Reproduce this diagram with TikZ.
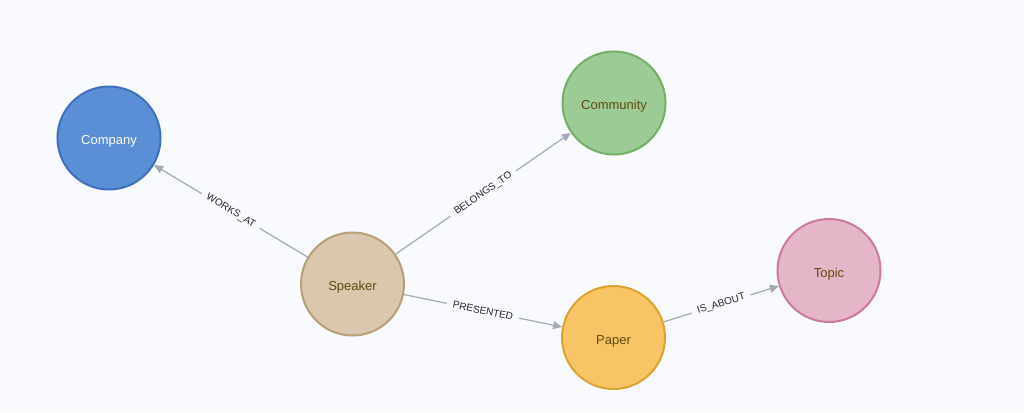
\documentclass[tikz,border=0pt]{standalone}
\usepackage{fontspec}
\setmainfont{Liberation Sans}
\usetikzlibrary{arrows.meta}
\definecolor{bg}{HTML}{F8FAFD}
\definecolor{edgec}{HTML}{A5ABB6}
\definecolor{txt}{HTML}{604A0E}
\definecolor{compF}{HTML}{5A8FD8}\definecolor{compD}{HTML}{3F70BC}
\definecolor{commF}{HTML}{9DCB96}\definecolor{commD}{HTML}{72B064}
\definecolor{spkF}{HTML}{D9C8AE}\definecolor{spkD}{HTML}{BA9E74}
\definecolor{papF}{HTML}{F8C566}\definecolor{papD}{HTML}{D9A431}
\definecolor{topF}{HTML}{E4B6C8}\definecolor{topD}{HTML}{CC7A9E}
\tikzset{
  ent/.style={circle, minimum size=103pt, inner sep=0pt, line width=2pt,
    text height=13.5pt, text depth=0pt,
    font=\fontsize{13}{15}\selectfont, text=txt},
  rel/.style={draw=edgec, line width=1.2pt, -{Triangle[length=9pt,width=8pt]}},
  rlab/.style={fill=bg, sloped, inner xsep=6pt, inner ysep=2pt,
    font=\fontsize{10}{12}\selectfont, text=black!85}
}
\begin{document}
\begin{tikzpicture}[x=1pt,y=-1pt]
\fill[bg] (0,0) rectangle (1024,412);
\useasboundingbox (0,0) rectangle (1024,412);
\node[ent, fill=compF, draw=compD, text=white] (company) at (109,138) {Company};
\node[ent, fill=commF, draw=commD] (community) at (614,103) {Community};
\node[ent, fill=spkF, draw=spkD] (speaker) at (352.5,284) {Speaker};
\node[ent, fill=papF, draw=papD] (paper) at (613.5,337.5) {Paper};
\node[ent, fill=topF, draw=topD] (topic) at (829,270.5) {Topic};
\draw[rel] (speaker) -- node[rlab] {WORKS\_AT} (company);
\draw[rel] (speaker) -- node[rlab] {BELONGS\_TO} (community);
\draw[rel] (speaker) -- node[rlab] {PRESENTED} (paper);
\draw[rel] (paper) -- node[rlab] {IS\_ABOUT} (topic);
\end{tikzpicture}
\end{document}
